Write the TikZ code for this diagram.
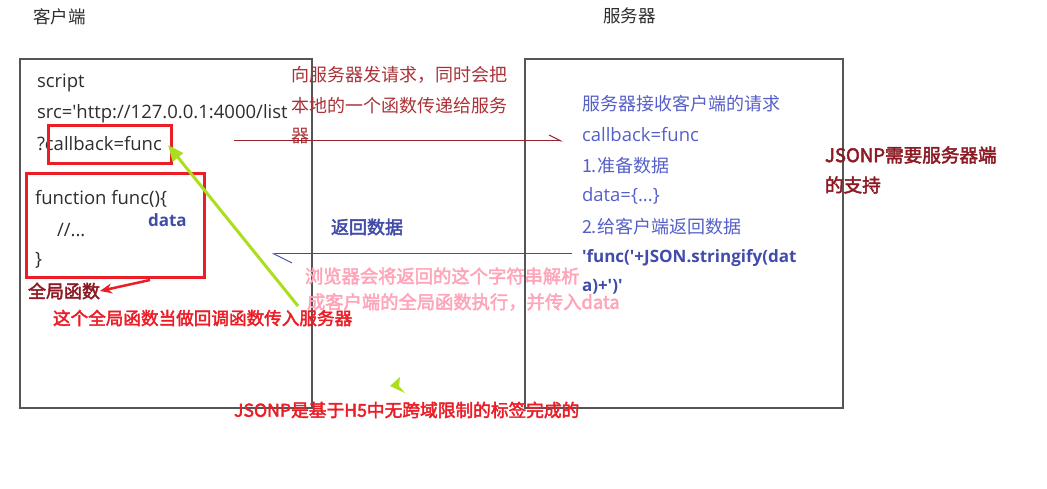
\documentclass[tikz,border=0pt]{standalone}
\usepackage{fontspec}
\newfontfamily\cjk{Noto Sans CJK SC}[AutoFakeBold=2.5]
\newfontfamily\lat{Open Sans}
\usetikzlibrary{arrows.meta}
\definecolor{boxgray}{RGB}{85,85,85}
\definecolor{codegray}{RGB}{45,45,45}
\definecolor{hlred}{RGB}{235,30,40}
\definecolor{reqred}{RGB}{150,35,45}
\definecolor{reqtext}{RGB}{170,50,55}
\definecolor{darkred}{RGB}{140,25,35}
\definecolor{srvblue}{RGB}{85,95,200}
\definecolor{retblue}{RGB}{65,75,170}
\definecolor{pinktext}{RGB}{255,165,185}
\definecolor{limegreen}{RGB}{170,222,30}
\tikzset{
  x=1pt, y=-1pt,
  every node/.style={inner sep=0pt, outer sep=0pt, anchor=west, font=\cjk\fontsize{18}{20}\selectfont},
  latin/.style={font=\lat\fontsize{18.5}{20}\selectfont},
  latinbold/.style={font=\lat\fontsize{17}{20}\selectfont\bfseries},
  cjkbold/.style={font=\cjk\fontsize{#1}{20}\selectfont\bfseries},
  cjkbold/.default=18,
  panel/.style={draw=boxgray, line width=1.5pt},
  hlbox/.style={draw=hlred, line width=3pt},
  code/.style={text=codegray, latin},
  srv/.style={text=srvblue},
  reqlbl/.style={text=reqtext},
  title/.style={text=codegray, font=\cjk\fontsize{17.5}{20}\selectfont},
}
\begin{document}
\begin{tikzpicture}
\useasboundingbox (0,0) rectangle (1047,489);
% titles
\node[title] (tclient) at (33,17) {客户端};
\node[title] (tserver) at (603,16) {服务器};
% panels
\draw[panel] (20,59) rectangle (312,408);
\draw[panel] (525,59) rectangle (843,408);
% client code
\node[code] (l1) at (37,83) {script};
\node[code] (l2) at (37,114) {src='http://127.0.0.1:4000/list};
\node[code] (l3) at (37,144) {?callback=func};
\draw[hlbox] (48,126) rectangle (171,164);
\draw[hlbox] (26,174) rectangle (204,277);
\node[code] (f1) at (35,199) {function func()\{};
\node[code] (f2) at (57,230) {//...};
\node[code] (f3) at (35,260) {\}};
\node[text=retblue, latinbold] (data) at (148,220) {data};
\node[text=darkred, cjkbold] (glob) at (28,291) {全局函数};
\node[text=hlred, cjkbold=17.6] (globnote) at (53,318) {这个全局函数当做回调函数传入服务器};
% request label
\node[reqlbl] (rq1) at (291,75) {向服务器发请求，同时会把};
\node[reqlbl] (rq2) at (291,106) {本地的一个函数传递给服务};
\node[reqlbl] (rq3) at (291,136) {器};
% return label
\node[text=retblue, cjkbold] (ret) at (331,227) {返回数据};
\node[text=pinktext, cjkbold=18.3] (br1) at (305,276) {浏览器会将返回的这个字符串解析};
\node[text=pinktext, cjkbold=18.3] (br2) at (307,302) {成客户端的全局函数执行，并传入data};
% server text
\node[srv] (s1) at (582,104) {服务器接收客户端的请求};
\node[srv, latin] (s2) at (582,135) {callback=func};
\node[srv] (s3) at (582,166) {1.准备数据};
\node[srv, latin] (s4) at (582,196) {data=\{...\}};
\node[srv] (s5) at (582,227) {2.给客户端返回数据};
\node[text=retblue, latinbold] (s6) at (582,258) {'func('+JSON.stringify(dat};
\node[text=retblue, latinbold] (s7) at (582,287) {a)+')'};
% right note
\node[text=darkred, cjkbold=18.6] (need1) at (825,155) {JSONP需要服务器端};
\node[text=darkred, cjkbold=18.6] (need2) at (825,185) {的支持};
% bottom note
\node[text=hlred, cjkbold=17.7] (bottom) at (234,410) {JSONP是基于H5中无跨域限制的标签完成的};
% connectors
\coordinate (reqA) at (234,141);
\coordinate (reqB) at (563,141);
\draw[reqred, line width=1pt, -{Straight Barb[harpoon, length=12pt, width=12pt]}] (reqA) -- (reqB);
\coordinate (retA) at (572,254);
\coordinate (retB) at (272,254);
\draw[retblue, line width=1pt, -{Straight Barb[harpoon, length=18pt, width=18pt]}] (retA) -- (retB);
\coordinate (redA) at (150,280);
\draw[hlred, line width=2.5pt, -{Stealth[length=12pt, width=10pt]}] (redA) -- (glob.east);
\coordinate (grnA) at (298,306);
\coordinate (grnB) at (168,145);
\draw[limegreen, line width=3pt, -{Triangle[length=16pt, width=13pt]}] (grnA) -- (grnB);
\fill[limegreen] (390,386) -- (400,377) -- (399,386) -- (405,393) -- cycle;
\end{tikzpicture}
\end{document}
